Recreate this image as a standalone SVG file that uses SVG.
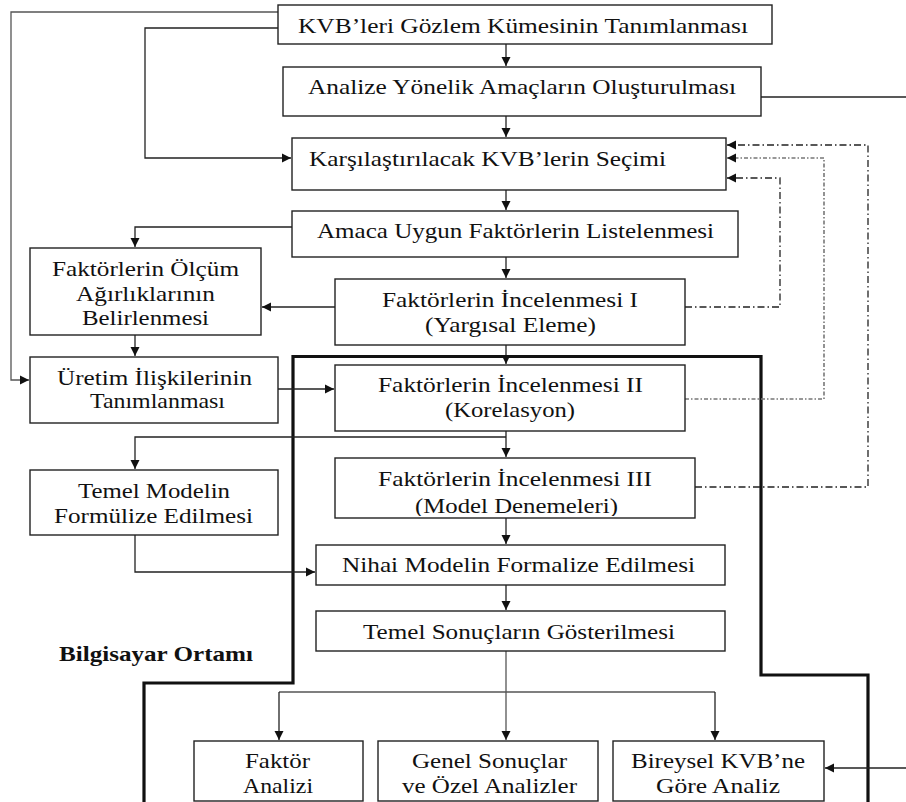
<svg xmlns="http://www.w3.org/2000/svg" width="906" height="802" viewBox="0 0 906 802" font-family="Liberation Serif, Times New Roman, serif">
<style>
.box{fill:#fff;stroke:#222;stroke-width:1.4}
.t{font-size:21px;fill:#111}
.b{font-weight:bold}
.ln{fill:none;stroke:#222;stroke-width:1.3}
.gl{fill:none;stroke:#555;stroke-width:1.3}
.thick{fill:none;stroke:#111;stroke-width:3.2}
.dd{fill:none;stroke:#222;stroke-width:1.3;stroke-dasharray:7,3,1.5,3}
.dg{fill:none;stroke:#777;stroke-width:1.6;stroke-dasharray:4,2,1.5,2}
</style>
<defs>
<marker id="ah" markerWidth="10" markerHeight="10" refX="9" refY="5" orient="auto" markerUnits="userSpaceOnUse">
<path d="M0,0.5 L9,5 L0,9.5 Z" fill="#111"/>
</marker>
<clipPath id="c9"><rect x="335" y="458" width="360" height="58"/></clipPath>
</defs>

<g id="boundary">
<path class="thick" d="M144,802 V683 H293 V356.5 H761 V675 H868 V802"/>
<text class="t b" x="59" y="661" textLength="194" lengthAdjust="spacingAndGlyphs">Bilgisayar Ortamı</text>
</g>

<g id="connectors">
<path class="gl" d="M278,12 H11 V380 H29" marker-end="url(#ah)"/>
<path class="ln" d="M278,28 H145 V158 H291" marker-end="url(#ah)"/>
<path class="ln" d="M506,44 V66" marker-end="url(#ah)"/>
<path class="ln" d="M761,97 H906"/>
<path class="ln" d="M506,116 V137" marker-end="url(#ah)"/>
<path class="ln" d="M506,190 V210" marker-end="url(#ah)"/>
<path class="ln" d="M292,227 H135 V247" marker-end="url(#ah)"/>
<path class="ln" d="M506,257 V278" marker-end="url(#ah)"/>
<path class="ln" d="M335,307 H262" marker-end="url(#ah)"/>
<path class="ln" d="M135,335 V356" marker-end="url(#ah)"/>
<path class="ln" d="M278,389 H334" marker-end="url(#ah)"/>
<path class="ln" d="M506,345 V364" marker-end="url(#ah)"/>
<path class="ln" d="M506,431 V457" marker-end="url(#ah)"/>
<path class="ln" d="M506,437 H135 V469" marker-end="url(#ah)"/>
<path class="ln" d="M506,518 V544" marker-end="url(#ah)"/>
<path class="ln" d="M135,535 V572 H315" marker-end="url(#ah)"/>
<path class="ln" d="M506,585 V610" marker-end="url(#ah)"/>
<path class="gl" d="M506,651 V740" marker-end="url(#ah)"/>
<path class="gl" d="M279,692 H715"/>
<path class="ln" d="M279,692 V740" marker-end="url(#ah)"/>
<path class="ln" d="M715,692 V740" marker-end="url(#ah)"/>
<path class="ln" d="M906,768 H825" marker-end="url(#ah)"/>
<path class="dd" d="M685,307 H780 V178 H727" marker-end="url(#ah)"/>
<path class="dg" d="M685,399 H824 V158 H727" marker-end="url(#ah)"/>
<path class="dd" d="M695,487 H868 V145 H727" marker-end="url(#ah)"/>
</g>

<g id="n1"><rect class="box" x="278" y="5" width="494" height="39"/>
<text class="t" x="298" y="33" textLength="450" lengthAdjust="spacingAndGlyphs">KVB’leri Gözlem Kümesinin Tanımlanması</text></g>

<g id="n2"><rect class="box" x="283" y="67" width="478" height="49"/>
<text class="t" x="308" y="94" textLength="428" lengthAdjust="spacingAndGlyphs">Analize Yönelik Amaçların Oluşturulması</text></g>

<g id="n3"><rect class="box" x="292" y="138" width="434" height="52"/>
<text class="t" x="309" y="166" textLength="357" lengthAdjust="spacingAndGlyphs">Karşılaştırılacak KVB’lerin Seçimi</text></g>

<g id="n4"><rect class="box" x="292" y="211" width="446" height="46"/>
<text class="t" x="317" y="238" textLength="397" lengthAdjust="spacingAndGlyphs">Amaca Uygun Faktörlerin Listelenmesi</text></g>

<g id="n5"><rect class="box" x="30" y="248" width="231" height="87"/>
<text class="t" x="52" y="276" textLength="187" lengthAdjust="spacingAndGlyphs">Faktörlerin Ölçüm</text>
<text class="t" x="76" y="301" textLength="139" lengthAdjust="spacingAndGlyphs">Ağırlıklarının</text>
<text class="t" x="82" y="325" textLength="127" lengthAdjust="spacingAndGlyphs">Belirlenmesi</text></g>

<g id="n6"><rect class="box" x="335" y="279" width="350" height="66"/>
<text class="t" x="382" y="307" textLength="256" lengthAdjust="spacingAndGlyphs">Faktörlerin İncelenmesi I</text>
<text class="t" x="425" y="332" textLength="171" lengthAdjust="spacingAndGlyphs">(Yargısal Eleme)</text></g>

<g id="n7"><rect class="box" x="30" y="357" width="248" height="66"/>
<text class="t" x="57" y="385" textLength="195" lengthAdjust="spacingAndGlyphs">Üretim İlişkilerinin</text>
<text class="t" x="90" y="408" textLength="135" lengthAdjust="spacingAndGlyphs">Tanımlanması</text></g>

<g id="n8"><rect class="box" x="335" y="365" width="350" height="66"/>
<text class="t" x="378" y="392" textLength="265" lengthAdjust="spacingAndGlyphs">Faktörlerin İncelenmesi II</text>
<text class="t" x="445" y="417" textLength="130" lengthAdjust="spacingAndGlyphs">(Korelasyon)</text></g>

<g id="n9"><rect class="box" x="335" y="458" width="360" height="60"/>
<text class="t" x="378" y="486" textLength="274" lengthAdjust="spacingAndGlyphs">Faktörlerin İncelenmesi III</text>
<text class="t" x="415" y="513" textLength="203" lengthAdjust="spacingAndGlyphs" clip-path="url(#c9)">(Model Denemeleri)</text></g>

<g id="n10"><rect class="box" x="30" y="470" width="248" height="65"/>
<text class="t" x="78" y="498" textLength="152" lengthAdjust="spacingAndGlyphs">Temel Modelin</text>
<text class="t" x="54" y="523" textLength="199" lengthAdjust="spacingAndGlyphs">Formülize Edilmesi</text></g>

<g id="n11"><rect class="box" x="316" y="545" width="409" height="40"/>
<text class="t" x="342" y="572" textLength="353" lengthAdjust="spacingAndGlyphs">Nihai Modelin Formalize Edilmesi</text></g>

<g id="n12"><rect class="box" x="316" y="611" width="409" height="40"/>
<text class="t" x="363" y="639" textLength="312" lengthAdjust="spacingAndGlyphs">Temel Sonuçların Gösterilmesi</text></g>

<g id="n13"><rect class="box" x="194" y="741" width="169" height="60"/>
<text class="t" x="245" y="768" textLength="65" lengthAdjust="spacingAndGlyphs">Faktör</text>
<text class="t" x="243" y="793" textLength="70" lengthAdjust="spacingAndGlyphs">Analizi</text></g>

<g id="n14"><rect class="box" x="378" y="741" width="220" height="60"/>
<text class="t" x="412" y="768" textLength="155" lengthAdjust="spacingAndGlyphs">Genel Sonuçlar</text>
<text class="t" x="402" y="793" textLength="175" lengthAdjust="spacingAndGlyphs">ve Özel Analizler</text></g>

<g id="n15"><rect class="box" x="613" y="741" width="211" height="60"/>
<text class="t" x="631" y="768" textLength="174" lengthAdjust="spacingAndGlyphs">Bireysel KVB’ne</text>
<text class="t" x="656" y="793" textLength="124" lengthAdjust="spacingAndGlyphs">Göre Analiz</text></g>
</svg>
